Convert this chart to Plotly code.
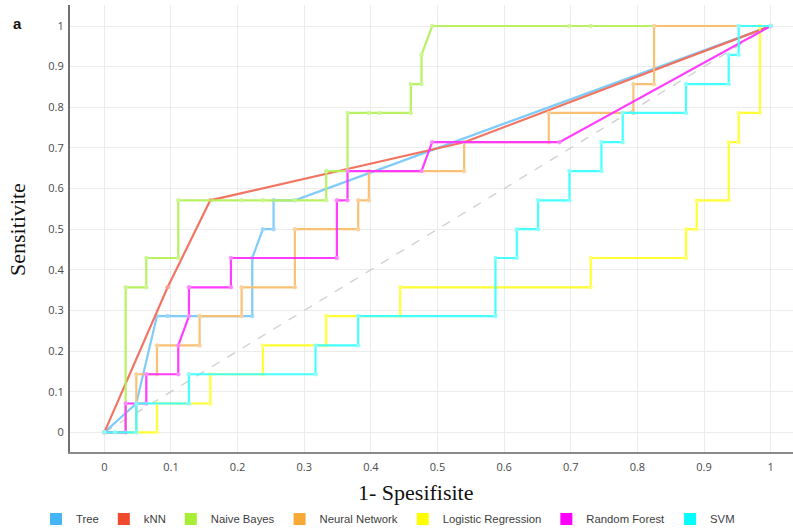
import plotly.graph_objects as go

# ---- data ----
tree_x = [0, 0.048, 0.079, 0.095, 0.222, 0.222, 0.238, 0.254, 0.254, 0.286, 1]
tree_y = [0, 0.071, 0.286, 0.286, 0.286, 0.429, 0.500, 0.500, 0.571, 0.571, 1]

knn_x = [0, 0.095, 0.159, 0.540, 1]
knn_y = [0, 0.357, 0.571, 0.714, 1]

nb_x = [0, 0.032, 0.032, 0.063, 0.063, 0.111, 0.111, 0.206, 0.238, 0.286, 0.333, 0.333,
        0.365, 0.365, 0.397, 0.413, 0.460, 0.460, 0.476, 0.476, 0.492, 0.698, 0.730, 1]
nb_y = [0, 0, 0.357, 0.357, 0.429, 0.429, 0.571, 0.571, 0.571, 0.571, 0.571, 0.643,
        0.643, 0.786, 0.786, 0.786, 0.786, 0.857, 0.857, 0.929, 1, 1, 1, 1]

nn_x = [0, 0.048, 0.048, 0.079, 0.079, 0.143, 0.143, 0.206, 0.206, 0.286, 0.286, 0.381,
        0.381, 0.397, 0.397, 0.540, 0.540, 0.667, 0.667, 0.794, 0.794, 0.825, 0.825, 1]
nn_y = [0, 0, 0.143, 0.143, 0.214, 0.214, 0.286, 0.286, 0.357, 0.357, 0.500, 0.500,
        0.571, 0.571, 0.643, 0.643, 0.714, 0.714, 0.786, 0.786, 0.857, 0.857, 1, 1]

lr_x = [0, 0.079, 0.079, 0.159, 0.159, 0.238, 0.238, 0.333, 0.333, 0.444, 0.444, 0.730,
        0.730, 0.873, 0.873, 0.889, 0.889, 0.937, 0.937, 0.952, 0.952, 0.984, 0.984, 1]
lr_y = [0, 0, 0.071, 0.071, 0.143, 0.143, 0.214, 0.214, 0.286, 0.286, 0.357, 0.357,
        0.429, 0.429, 0.500, 0.500, 0.571, 0.571, 0.714, 0.714, 0.786, 0.786, 1, 1]

rf_x = [0, 0.032, 0.032, 0.063, 0.063, 0.111, 0.111, 0.127, 0.127, 0.190, 0.190, 0.349,
        0.349, 0.365, 0.365, 0.476, 0.492, 0.683, 1]
rf_y = [0, 0, 0.071, 0.071, 0.143, 0.143, 0.214, 0.286, 0.357, 0.357, 0.429, 0.429,
        0.571, 0.571, 0.643, 0.643, 0.714, 0.714, 1]

svm_x = [0, 0.016, 0.048, 0.048, 0.127, 0.127, 0.317, 0.317, 0.381, 0.381, 0.587, 0.587,
         0.619, 0.619, 0.651, 0.651, 0.698, 0.698, 0.746, 0.746, 0.778, 0.778, 0.873,
         0.873, 0.937, 0.937, 0.952, 0.952, 1]
svm_y = [0, 0, 0, 0.071, 0.071, 0.143, 0.143, 0.214, 0.214, 0.286, 0.286, 0.429,
         0.429, 0.500, 0.500, 0.571, 0.571, 0.643, 0.643, 0.714, 0.714, 0.786, 0.786,
         0.857, 0.857, 0.929, 0.929, 1, 1]

series_names = ["Tree", "kNN", "Naive Bayes", "Neural Network",
                "Logistic Regression", "Random Forest", "SVM"]
series_x = [tree_x, knn_x, nb_x, nn_x, lr_x, rf_x, svm_x]
series_y = [tree_y, knn_y, nb_y, nn_y, lr_y, rf_y, svm_y]
legend_colors = ["#45b5f5", "#f04a2e", "#a8ee34", "#f7a935", "#ffff00", "#ff00ff", "#00ffff"]
line_colors = ["rgba(120,200,250,0.95)", "rgba(240,110,90,0.95)", "rgba(180,240,90,0.95)",
               "rgba(250,190,110,0.95)", "rgba(255,255,40,0.95)", "rgba(255,50,255,0.95)",
               "rgba(60,255,255,0.95)"]
marker_colors = ["rgba(160,215,250,0.9)", "rgba(245,160,150,0.9)", "rgba(205,245,150,0.9)",
                 "rgba(250,210,160,0.9)", "rgba(255,255,120,0.9)", "rgba(255,140,255,0.9)",
                 "rgba(140,255,255,0.9)"]

tick_vals = [0, 0.1, 0.2, 0.3, 0.4, 0.5, 0.6, 0.7, 0.8, 0.9, 1]
tick_text = ["0", "0.1", "0.2", "0.3", "0.4", "0.5", "0.6", "0.7", "0.8", "0.9", "1"]

fig = go.Figure()

# chance diagonal
fig.add_trace(go.Scatter(x=[0, 1], y=[0, 1], mode="lines",
                         line=dict(color="#cfcfcf", width=1.3, dash="dash"),
                         showlegend=False, hoverinfo="skip"))

for name, xs, ys, lc, mc in zip(series_names, series_x, series_y, line_colors, marker_colors):
    fig.add_trace(go.Scatter(x=xs, y=ys, mode="lines+markers", name=name,
                             line=dict(color=lc, width=2.2),
                             marker=dict(color=mc, size=4.5),
                             showlegend=False))

# legend entries with square swatches
for name, c in zip(series_names, legend_colors):
    fig.add_trace(go.Scatter(x=[None], y=[None], mode="markers", name=name,
                             marker=dict(symbol="square", size=11, color=c),
                             showlegend=True))

fig.update_layout(
    width=793, height=531,
    margin=dict(l=70, r=0, t=5, b=79, autoexpand=False),
    paper_bgcolor="white", plot_bgcolor="white",
    showlegend=True,
    legend=dict(orientation="h", x=-0.047, xanchor="left", y=-0.15, yanchor="middle",
                font=dict(family="Liberation Sans, Arial", size=11.3, color="#404040"),
                itemsizing="constant", bgcolor="rgba(0,0,0,0)", tracegroupgap=0),
    xaxis=dict(range=[-0.0515, 1.0335], tickvals=tick_vals, ticktext=tick_text,
               showgrid=True, gridcolor="#ececec", gridwidth=1, zeroline=False,
               showline=True, linecolor="#8a8a8a", linewidth=2,
               ticks="", tickfont=dict(family="Open Sans", size=11, color="#4a4a4a"),
               ticklabelstandoff=4),
    yaxis=dict(range=[-0.0484, 1.0517], tickvals=tick_vals, ticktext=tick_text,
               showgrid=True, gridcolor="#ececec", gridwidth=1, zeroline=False,
               showline=True, linecolor="#707070", linewidth=2,
               ticks="", tickfont=dict(family="Open Sans", size=11, color="#4a4a4a"),
               ticklabelstandoff=2),
    annotations=[
        dict(text="1- Spesifisite", xref="paper", yref="paper", x=(416 - 70) / 723,
             y=-(492 - 452) / 447, xanchor="center", yanchor="middle", showarrow=False,
             font=dict(family="Liberation Serif, Times New Roman", size=22, color="#111")),
        dict(text="Sensitivite", xref="paper", yref="paper", x=-(70 - 17) / 723,
             y=(452 - 230) / 447, xanchor="center", yanchor="middle", showarrow=False,
             textangle=-90,
             font=dict(family="Liberation Serif, Times New Roman", size=22, color="#111")),
        dict(text="<b>a</b>", xref="paper", yref="paper", x=-(70 - 17) / 723,
             y=(452 - 24) / 447, xanchor="center", yanchor="middle", showarrow=False,
             font=dict(family="Liberation Sans, Arial", size=15, color="#111")),
    ],
)

fig.write_html("out.html", config={"displayModeBar": False},
               post_script="document.body.style.margin='0';")
